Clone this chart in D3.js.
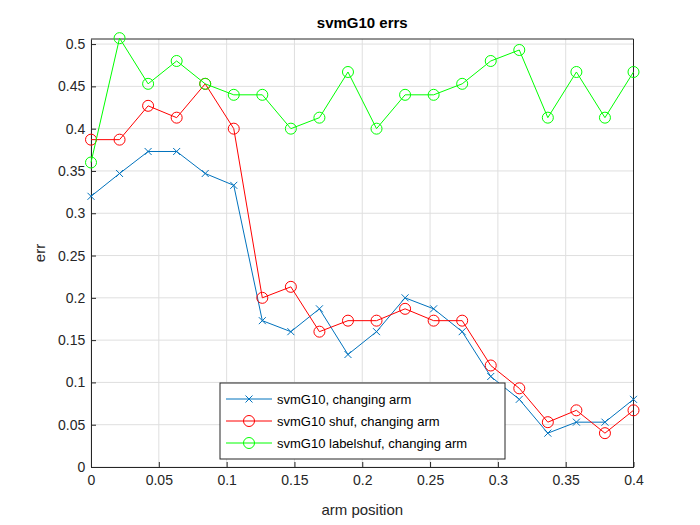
<!DOCTYPE html>
<html><head><meta charset="utf-8">
<script src="https://cdn.jsdelivr.net/npm/d3@7"></script>
<style>body{margin:0;background:#fff}text{font-family:Helvetica,Arial,"Liberation Sans",sans-serif}</style>
</head><body>
<svg width="700" height="525"></svg>
<script>
const xs = d3.range(20).map(i => i * 0.4 / 19);
const blue = [0.32,0.347,0.373,0.373,0.347,0.333,0.173,0.16,0.187,0.133,0.16,0.2,0.187,0.16,0.107,0.08,0.04,0.053,0.053,0.08];
const red = [0.387,0.387,0.427,0.413,0.453,0.4,0.2,0.213,0.16,0.173,0.173,0.187,0.173,0.173,0.12,0.093,0.053,0.067,0.04,0.067];
const green = [0.36,0.507,0.453,0.48,0.453,0.44,0.44,0.4,0.413,0.467,0.4,0.44,0.44,0.453,0.48,0.493,0.413,0.467,0.413,0.467];
const xTicks = [0,0.05,0.1,0.15,0.2,0.25,0.3,0.35,0.4];
const yTicks = d3.range(0, 0.501, 0.05);
const series = [
  {name:"svmG10, changing arm", vals:blue, color:"#0072bd", marker:"x"},
  {name:"svmG10 shuf, changing arm", vals:red, color:"#ff0000", marker:"o"},
  {name:"svmG10 labelshuf, changing arm", vals:green, color:"#00ff00", marker:"o"}
];

const svg = d3.select("svg");
const L = 91, R = 633.5, T = 39, B = 467;
const x = d3.scaleLinear().domain([0, 0.4]).range([L, R]);
const y = d3.scaleLinear().domain([0, 0.506]).range([B, T]);

const g = svg.append("g");
// grid
g.selectAll(".gx").data(xTicks).join("line").attr("x1", d => x(d)).attr("x2", d => x(d))
  .attr("y1", T).attr("y2", B).attr("stroke", "#dfdfdf");
g.selectAll(".gy").data(yTicks).join("line").attr("y1", d => y(d)).attr("y2", d => y(d))
  .attr("x1", L).attr("x2", R).attr("stroke", "#dfdfdf");

const xAxis = d3.axisBottom(x).tickValues(xTicks).tickFormat(d => d === 0 ? "0" : String(+d.toFixed(2))).tickSizeInner(-5).tickSizeOuter(0);
const yAxis = d3.axisLeft(y).tickValues(yTicks).tickFormat(d => d === 0 ? "0" : String(+d.toFixed(2))).tickSizeInner(-5).tickSizeOuter(0);
const xa = svg.append("g").attr("transform", `translate(0,${B})`).call(xAxis);
const ya = svg.append("g").attr("transform", `translate(${L},0)`).call(yAxis);
[xa, ya].forEach(a => {
  a.selectAll("path,line").attr("stroke", "#262626");
  a.selectAll("text").attr("fill", "#262626").style("font-size", "14px");
});
xa.selectAll("text").attr("dy", "1.1em");
ya.selectAll("text").attr("dx", "-0.2em");
svg.append("line").attr("x1", L).attr("x2", R).attr("y1", T).attr("y2", T).attr("stroke", "#262626");
svg.append("line").attr("x1", R).attr("x2", R).attr("y1", T).attr("y2", B).attr("stroke", "#262626");

svg.append("text").attr("x", (L + R) / 2).attr("y", 28).attr("text-anchor", "middle")
  .style("font-size", "15px").style("font-weight", "bold").attr("fill", "#000").text("svmG10 errs");
svg.append("text").attr("x", (L + R) / 2).attr("y", 515).attr("text-anchor", "middle")
  .style("font-size", "15px").attr("fill", "#262626").text("arm position");
svg.append("text").attr("transform", `translate(45,${(T + B) / 2}) rotate(-90)`).attr("text-anchor", "middle")
  .style("font-size", "15px").attr("fill", "#262626").text("err");

function drawMarker(sel, s, cx, cy) {
  if (s.marker === "x") {
    sel.append("path").attr("d", `M${cx-3.5},${cy-3.5}L${cx+3.5},${cy+3.5}M${cx-3.5},${cy+3.5}L${cx+3.5},${cy-3.5}`)
      .attr("stroke", s.color).attr("fill", "none");
  } else {
    sel.append("circle").attr("cx", cx).attr("cy", cy).attr("r", 5.5).attr("stroke", s.color).attr("fill", "none");
  }
}
const line = d3.line().x((d, i) => x(xs[i])).y(d => y(d));
series.forEach(s => {
  const sg = svg.append("g");
  sg.append("path").attr("d", line(s.vals)).attr("stroke", s.color).attr("fill", "none");
  s.vals.forEach((v, i) => drawMarker(sg, s, x(xs[i]), y(v)));
});

// legend
const lg = svg.append("g").attr("transform", "translate(220,383)");
lg.append("rect").attr("width", 285).attr("height", 76).attr("fill", "#fff").attr("stroke", "#262626");
series.forEach((s, i) => {
  const cy = 16 + i * 22;
  lg.append("line").attr("x1", 6).attr("x2", 52).attr("y1", cy).attr("y2", cy).attr("stroke", s.color);
  drawMarker(lg, s, 29, cy);
  lg.append("text").attr("x", 57).attr("y", cy + 5).style("font-size", "13px").attr("fill", "#000").text(s.name);
});
</script>
</body></html>
